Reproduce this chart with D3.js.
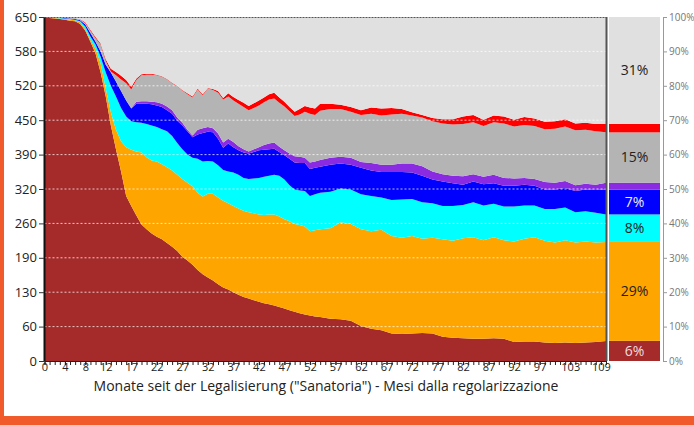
<!DOCTYPE html>
<html>
<head>
<meta charset="utf-8">
<script src="https://cdn.jsdelivr.net/npm/d3@7"></script>
<style>
body{margin:0;background:#fff;}
svg text{font-family:"Open Sans",sans-serif;}
</style>
</head>
<body>
<div id="chart"></div>
<script>
// months since legalisation (monthly up to 54, then every second month)
var months = [0,1,2,3,4,5,6,7,8,9,10,11,12,13,14,15,16,17,18,19,20,21,22,23,24,25,26,27,28,29,30,31,32,33,34,35,36,37,38,39,40,41,42,43,44,45,46,47,48,49,50,51,52,53,54,
  56,58,60,62,64,66,68,70,72,74,76,78,80,82,84,86,88,90,92,94,96,98,100,102,104,106,108,110];

// persons per status, bottom to top
var brown = [650,648,647,646,645,643,642,637,624,603,581,545,500,445,400,358,312,293,275,258,249,241,235,230,223,216,208,197,190,182,172,164,158,152,145,139,135,130,125,121,118,115,112,109,107,105,102,99,96,93,90,88,86,84,83,
  80,79,76,66,61,58,52,51,52,53,52,46,44,43,42,42,43,42,36,37,37,35,34,35,34,35,36,38];
var orange = [0,1,1,1,1,2,2,3,3,4,9,17,15,25,37,57,92,106,121,136,136,138,142,142,143,144,144,147,147,148,146,147,158,164,164,164,163,163,163,163,163,164,165,167,170,172,171,169,168,166,167,166,159,163,166,
  171,183,183,183,184,190,184,182,184,178,181,184,183,189,192,186,191,186,190,194,197,192,190,193,190,191,188,187];
var cyan = [0,0,0,1,1,1,1,2,5,6,8,13,30,50,63,63,58,54,55,56,63,66,65,66,68,65,60,56,53,54,64,66,62,61,61,58,60,63,64,62,63,66,69,72,73,75,77,75,68,65,65,67,67,68,69,
  69,64,65,66,67,61,68,72,70,69,65,63,66,63,66,66,63,64,66,63,60,60,63,62,57,57,56,52];
var blue = [0,0,1,0,1,1,1,2,4,7,5,10,15,25,28,32,30,24,35,36,38,40,41,42,40,42,42,45,44,39,46,54,55,55,50,42,53,48,46,48,48,50,52,51,50,49,45,46,50,51,52,53,51,50,49,
  51,47,47,50,48,48,53,52,50,50,45,46,43,38,39,40,39,39,39,39,37,37,37,37,40,41,43,47];
var purple = [0,0,0,0,0,0,0,0,0,0,0,0,0,0,0,0,0,1,4,5,5,5,6,6,7,7,6,5,3,3,9,9,9,8,10,10,9,10,8,6,4,5,6,9,11,12,10,9,10,12,12,10,12,12,13,
  13,13,13,11,14,14,14,16,17,18,15,14,14,16,14,14,16,15,14,13,13,14,13,13,11,11,10,13];
var gray = [0,1,0,1,1,1,2,2,2,4,7,13,7,2,12,22,33,35,41,49,50,51,51,51,51,51,59,61,67,72,76,62,73,72,77,81,80,78,80,80,78,78,79,81,83,83,83,83,80,76,80,87,92,88,93,
  92,90,87,89,93,93,95,94,91,92,95,96,97,99,98,96,99,103,98,100,100,100,102,103,104,102,101,95];
var red = [0,0,0,0,0,0,0,0,2,2,2,2,3,5,6,7,6,5,3,2,2,2,1,1,1,1,1,1,2,2,2,2,1,2,3,3,6,7,7,8,8,9,9,9,10,11,10,9,8,8,10,11,12,12,13,
  10,8,9,9,12,13,12,9,6,5,6,8,10,14,14,12,13,13,13,15,14,14,14,14,13,13,14,16];
var rest = [0,0,1,1,1,2,2,4,10,24,38,50,80,98,104,111,119,132,116,108,107,107,109,112,117,124,130,138,144,150,135,146,134,136,140,153,144,151,157,162,168,163,158,152,146,143,152,160,170,179,174,168,171,173,164,
  164,166,170,176,171,173,172,174,180,185,191,193,193,188,185,194,186,188,194,189,192,198,197,193,201,200,202,202];

var keys = ["brown","orange","cyan","blue","purple","gray","red","rest"];
var colors = ["#a52a2a","#ffa500","#00ffff","#0000ff","#8a2be2","#b4b4b4","#ff0000","#e0e0e0"];
var labelColors = ["#f2dede","#222","#222","#eee","#222","#222","#222","#222"];

var yTicks = [0,65,130,195,260,325,390,455,520,585,650];
var yTickLabels = ["0","60","130","190","260","320","390","450","520","580","650"];
var xTicks = [0,4,8,12,17,22,27,32,37,42,47,52,57,62,67,72,77,82,87,92,97,103,109];
var pctTicks = [0,10,20,30,40,50,60,70,80,90,100];
var xTitle = 'Monate seit der Legalisierung ("Sanatoria") - Mesi dalla regolarizzazione';

var series = {brown:brown,orange:orange,cyan:cyan,blue:blue,purple:purple,gray:gray,red:red,rest:rest};
var rows = months.map(function(m,i){
  var r = {month:m};
  keys.forEach(function(k){ r[k] = series[k][i]; });
  return r;
});

var svg = d3.select("#chart").append("svg")
  .attr("width",694).attr("height",425);

// orange frame
svg.append("rect").attr("x",0).attr("y",0).attr("width",4).attr("height",425).attr("fill","#f15a2a");
svg.append("rect").attr("x",0).attr("y",416).attr("width",694).attr("height",9).attr("fill","#f15a2a");

var x = d3.scaleLinear().domain([0,110]).range([44.5,606]);
var y = d3.scaleLinear().domain([0,650]).range([361,17]);

var stacked = d3.stack().keys(keys)(rows);
var area = d3.area()
  .x(function(d){ return x(d.data.month); })
  .y0(function(d){ return y(d[0]); })
  .y1(function(d){ return y(d[1]); });

svg.append("g").selectAll("path")
  .data(stacked)
  .enter().append("path")
  .attr("d",area)
  .attr("fill",function(d,i){ return colors[i]; });

// grid
svg.append("g").selectAll("line")
  .data(yTicks.slice(1,-1))
  .enter().append("line")
  .attr("x1",x(0)).attr("x2",x(110))
  .attr("y1",function(d){ return y(d); }).attr("y2",function(d){ return y(d); })
  .attr("stroke","#fff").attr("stroke-opacity",0.75)
  .attr("stroke-dasharray","2,2");

// frame lines of plot
svg.append("line").attr("x1",x(0)).attr("x2",x(110)).attr("y1",17.5).attr("y2",17.5)
  .attr("stroke","#555").attr("stroke-dasharray","2,1");
svg.append("line").attr("x1",606.5).attr("x2",606.5).attr("y1",17).attr("y2",361)
  .attr("stroke","#555").attr("stroke-width",2);

// left axis
var yAxis = svg.append("g")
  .attr("transform","translate(44,0)")
  .call(d3.axisLeft(y).tickValues(yTicks).tickFormat(function(d,i){ return yTickLabels[i]; }).tickSize(5).tickSizeOuter(0));
yAxis.select(".domain").attr("stroke","#111").attr("stroke-width",2);
yAxis.selectAll(".tick line").attr("stroke","#333");
yAxis.selectAll("text").style("font-size","13px").attr("fill","#222").attr("x",-7);

// bottom axis, one tick per month
var xMinor = svg.append("g")
  .attr("transform","translate(0,361)")
  .call(d3.axisBottom(x).tickValues(d3.range(0,111)).tickFormat("").tickSize(4).tickSizeOuter(0));
xMinor.select(".domain").attr("stroke","#222");
xMinor.selectAll(".tick line").attr("stroke","#222");
xMinor.selectAll(".tick text").remove();

var xAxis = svg.append("g")
  .attr("transform","translate(0,361)")
  .call(d3.axisBottom(x).tickValues(xTicks).tickSize(4).tickSizeOuter(0));
xAxis.select(".domain").remove();
xAxis.selectAll(".tick line").attr("stroke","#222");
xAxis.selectAll("text").style("font-size","11px").attr("fill","#222").attr("y",2);

svg.append("text")
  .attr("x",326).attr("y",391)
  .attr("text-anchor","middle")
  .style("font-size","14px")
  .attr("fill","#222")
  .text(xTitle);

// share bar for the last month
var last = rows[rows.length-1];
var total = d3.sum(keys,function(k){ return last[k]; });
var p = d3.scaleLinear().domain([0,100]).range([361,17]);
var cum = 0;
var shares = keys.map(function(k,i){
  var v = last[k]/total*100;
  var s = {key:k, i:i, y0:cum, y1:cum+v, v:v};
  cum += v;
  return s;
});

var bar = svg.append("g");
bar.selectAll("rect")
  .data(shares)
  .enter().append("rect")
  .attr("x",609).attr("width",51)
  .attr("y",function(d){ return p(d.y1); })
  .attr("height",function(d){ return p(d.y0)-p(d.y1); })
  .attr("fill",function(d){ return colors[d.i]; });

bar.selectAll("text")
  .data(shares.filter(function(d){ return Math.round(d.v) >= 5; }))
  .enter().append("text")
  .attr("x",634.5)
  .attr("y",function(d){ return p((d.y0+d.y1)/2); })
  .attr("dy","0.35em")
  .attr("text-anchor","middle")
  .style("font-size","14px")
  .attr("fill",function(d){ return labelColors[d.i]; })
  .text(function(d){ return Math.round(d.v)+"%"; });

var pAxis = svg.append("g")
  .attr("transform","translate(663,0)")
  .call(d3.axisRight(p).tickValues(pctTicks).tickFormat(function(d){ return d+"%"; }).tickSize(4).tickSizeOuter(0));
pAxis.select(".domain").attr("stroke","#999");
pAxis.selectAll(".tick line").attr("stroke","#999");
pAxis.selectAll("text").style("font-size","10px").attr("fill","#777").attr("x",6);
</script>
</body>
</html>
